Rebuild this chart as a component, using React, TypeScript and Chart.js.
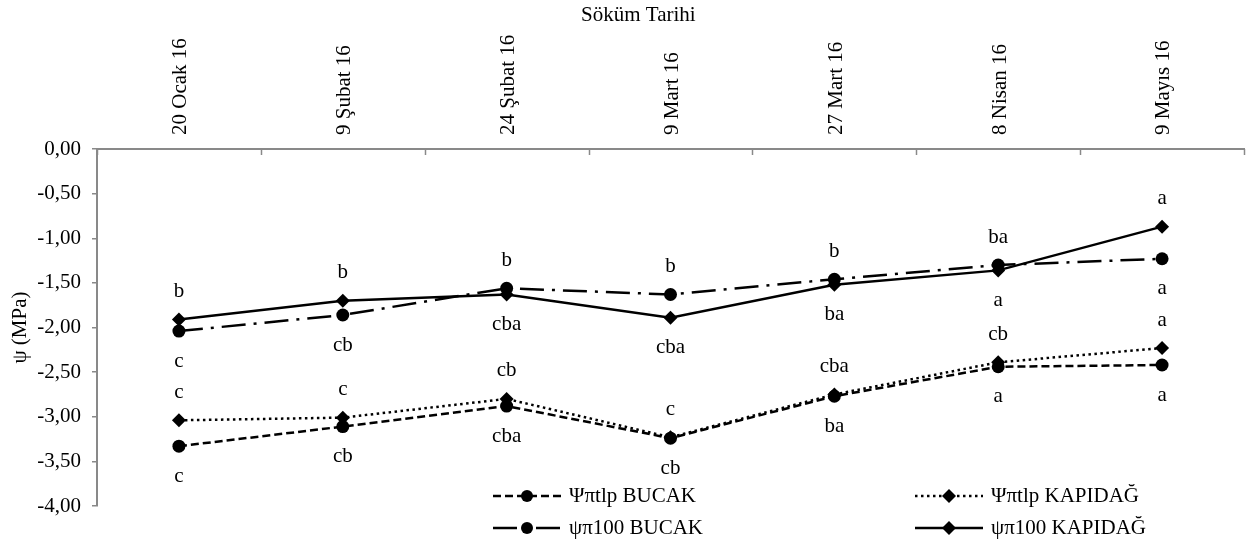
import React, { useEffect, useRef } from 'react';
import { Chart, registerables } from 'chart.js';

Chart.register(...registerables);

const categories = ['20 Ocak 16', '9 Şubat 16', '24 Şubat 16', '9 Mart 16', '27 Mart 16', '8 Nisan 16', '9 Mayıs 16'];

const seriesNames = ['Ψπtlp BUCAK', 'Ψπtlp KAPIDAĞ', 'ψπ100 BUCAK', 'ψπ100 KAPIDAĞ'];

const tlpBucak = [-3.33, -3.11, -2.88, -3.24, -2.77, -2.44, -2.42];
const tlpKapidag = [-3.04, -3.01, -2.80, -3.23, -2.75, -2.39, -2.23];
const p100Bucak = [-2.04, -1.86, -1.56, -1.63, -1.46, -1.30, -1.23];
const p100Kapidag = [-1.91, -1.70, -1.63, -1.89, -1.52, -1.36, -0.87];

const lettersTlpBucak = ['c', 'cb', 'cba', 'cb', 'ba', 'a', 'a'];
const lettersTlpKapidag = ['c', 'c', 'cb', 'c', 'cba', 'cb', 'a'];
const lettersP100Bucak = ['c', 'cb', 'cba', 'cba', 'ba', 'a', 'a'];
const lettersP100Kapidag = ['b', 'b', 'b', 'b', 'b', 'ba', 'a'];

const xTitle = 'Söküm Tarihi';
const yTitle = 'ψ (MPa)';

const yMin = -4;
const yMax = 0;
const yStep = 0.5;

const FONT = '"Liberation Serif", "Times New Roman", serif';
const FS = 21;
const AXIS_COLOR = '#898989';

const lettersPlugin = {
  id: 'letters',
  afterDatasetsDraw(chart: any) {
    const ctx = chart.ctx;
    ctx.save();
    ctx.font = `${FS}px ${FONT}`;
    ctx.fillStyle = '#000';
    ctx.textAlign = 'center';
    ctx.textBaseline = 'middle';
    const pairs: [number, number, string[], string[]][] = [
      [3, 2, lettersP100Kapidag, lettersP100Bucak],
      [1, 0, lettersTlpKapidag, lettersTlpBucak],
    ];
    pairs.forEach(([ia, ib, la, lb]) => {
      const ma = chart.getDatasetMeta(ia).data;
      const mb = chart.getDatasetMeta(ib).data;
      for (let j = 0; j < categories.length; j++) {
        const x = ma[j].x;
        const top = Math.min(ma[j].y, mb[j].y);
        const bot = Math.max(ma[j].y, mb[j].y);
        ctx.fillText(la[j], x, top - 28);
        ctx.fillText(lb[j], x, bot + 30);
      }
    });
    ctx.restore();
  },
};

const decorPlugin = {
  id: 'decor',
  afterDraw(chart: any) {
    const xs = chart.scales.x;
    const ctx = chart.ctx;
    const area = chart.chartArea;
    const p0 = xs.getPixelForValue(0);
    const p1 = xs.getPixelForValue(1);
    const half = (p1 - p0) / 2;
    ctx.save();
    ctx.strokeStyle = AXIS_COLOR;
    ctx.lineWidth = 1.5;
    for (let i = 0; i <= categories.length; i++) {
      const x = Math.round(p0 - half + i * 2 * half) + 0.5;
      ctx.beginPath();
      ctx.moveTo(x, area.top);
      ctx.lineTo(x, area.top + 6);
      ctx.stroke();
    }
    ctx.fillStyle = '#000';
    ctx.font = `${FS}px ${FONT}`;
    ctx.textAlign = 'center';
    ctx.textBaseline = 'middle';
    ctx.fillText(xTitle, area.left + (area.right - area.left) * 0.472, 15);
    ctx.restore();
  },
};

const legendPlugin = {
  id: 'customLegend',
  afterDraw(chart: any) {
    const ctx = chart.ctx;
    const slots = [
      { x: 493, y: 496 },
      { x: 915, y: 496 },
      { x: 493, y: 528 },
      { x: 915, y: 528 },
    ];
    const lineLen = 68;
    chart.data.datasets.forEach((ds: any, i: number) => {
      const s = slots[i];
      ctx.save();
      ctx.strokeStyle = '#000';
      ctx.lineWidth = ds.borderWidth;
      ctx.setLineDash(ds.borderDash || []);
      ctx.beginPath();
      ctx.moveTo(s.x, s.y);
      ctx.lineTo(s.x + lineLen, s.y);
      ctx.stroke();
      ctx.setLineDash([]);
      ctx.fillStyle = '#000';
      const cx = s.x + lineLen / 2;
      ctx.beginPath();
      if (ds.pointStyle === 'circle') {
        ctx.arc(cx, s.y, 6, 0, Math.PI * 2);
      } else {
        const r = 7;
        ctx.moveTo(cx, s.y - r);
        ctx.lineTo(cx + r, s.y);
        ctx.lineTo(cx, s.y + r);
        ctx.lineTo(cx - r, s.y);
        ctx.closePath();
      }
      ctx.fill();
      ctx.font = `${FS}px ${FONT}`;
      ctx.textAlign = 'left';
      ctx.textBaseline = 'middle';
      ctx.fillText(ds.label, s.x + lineLen + 8, s.y);
      ctx.restore();
    });
  },
};

export default function App() {
  const ref = useRef<HTMLCanvasElement | null>(null);

  useEffect(() => {
    document.body.style.margin = '0';
    const canvas = ref.current;
    if (!canvas) return;
    const mk = (label: string, data: number[], dash: number[], style: string, r: number) => ({
      label,
      data,
      borderColor: '#000',
      backgroundColor: '#000',
      borderWidth: 2.5,
      borderDash: dash,
      pointStyle: style,
      pointRadius: r,
      pointBorderWidth: 0,
      pointBackgroundColor: '#000',
      pointBorderColor: '#000',
      tension: 0,
      fill: false,
    });
    const chart = new Chart(canvas, {
      type: 'line',
      data: {
        labels: categories,
        datasets: [
          mk(seriesNames[0], tlpBucak, [8, 4], 'circle', 6.5),
          mk(seriesNames[1], tlpKapidag, [2.5, 3.5], 'rectRot', 7),
          mk(seriesNames[2], p100Bucak, [24, 8, 3, 8], 'circle', 6.5),
          mk(seriesNames[3], p100Kapidag, [], 'rectRot', 7),
        ],
      } as any,
      options: {
        responsive: false,
        animation: false,
        layout: { padding: { left: 0, right: 2, top: 0, bottom: 38 } },
        plugins: {
          legend: { display: false },
          tooltip: { enabled: false },
        },
        scales: {
          x: {
            type: 'category',
            position: 'top',
            offset: true,
            grid: { display: true, offset: true, drawOnChartArea: false, drawTicks: false, color: AXIS_COLOR },
            border: { display: true, color: AXIS_COLOR, width: 2 },
            ticks: {
              autoSkip: false,
              maxRotation: 90,
              minRotation: 90,
              padding: 14,
              labelOffset: 27,
              color: '#000',
              font: { family: FONT, size: FS },
            },
            title: { display: false },
            afterFit: (scale: any) => {
              scale.height = 149;
            },
          },
          y: {
            min: yMin,
            max: yMax,
            grid: { display: true, drawOnChartArea: false, drawTicks: true, tickLength: 5, color: AXIS_COLOR, lineWidth: 1.5 },
            border: { display: true, color: AXIS_COLOR, width: 2 },
            ticks: {
              stepSize: yStep,
              padding: 11,
              color: '#000',
              font: { family: FONT, size: FS },
              callback: (v: any) => Number(v).toFixed(2).replace('.', ','),
            },
            title: {
              display: true,
              text: yTitle,
              color: '#000',
              font: { family: FONT, size: FS },
              padding: { top: 8, bottom: 0 },
            },
            afterFit: (scale: any) => {
              scale.width = 97;
            },
          },
        },
      } as any,
      plugins: [lettersPlugin, decorPlugin, legendPlugin],
    });
    return () => chart.destroy();
  }, []);

  return (
    <div style={{ width: 1251, height: 544 }}>
      <canvas ref={ref} width={1251} height={544} style={{ display: 'block' }} />
    </div>
  );
}
